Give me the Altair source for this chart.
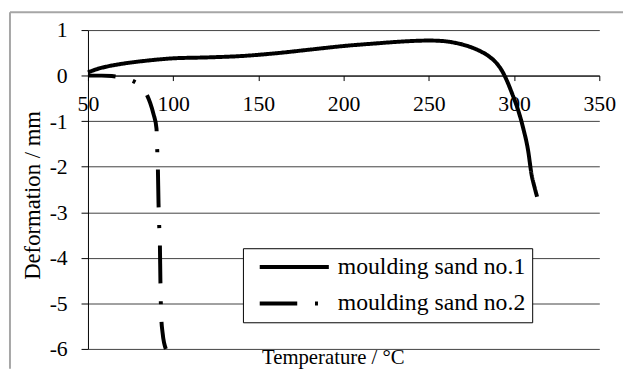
import altair as alt
import pandas as pd

series_names = ["moulding sand no.1", "moulding sand no.2"]

temp1 = [50, 55, 60, 70, 80, 90, 100, 120, 140, 160, 180, 200, 220, 235, 250,
         258, 264, 270, 275, 280, 285, 290, 293, 296, 299, 301.5, 305.4, 308.3, 310.2, 312, 313.5]
def1 = [0.07, 0.14, 0.19, 0.26, 0.31, 0.35, 0.38, 0.40, 0.43, 0.49, 0.57, 0.65, 0.71, 0.75, 0.77,
        0.76, 0.73, 0.68, 0.62, 0.54, 0.43, 0.26, 0.10, -0.13, -0.41, -0.66, -1.16, -1.66, -2.16, -2.45, -2.66]

temp2 = [50, 58, 64, 68, 72, 76, 80, 84, 86.5, 88.5, 90.2, 90.6, 91.0, 91.4, 91.8,
         92.2, 92.5, 92.7, 93.0, 93.8, 95.7]
def2 = [0, 0, -0.01, -0.03, -0.06, -0.11, -0.2, -0.38, -0.6, -0.85, -1.16, -1.6, -2.0, -2.8, -3.3,
        -3.7, -4.5, -4.9, -5.3, -5.65, -6.0]

x_ticks = [50, 100, 150, 200, 250, 300, 350]
y_ticks = [-6, -5, -4, -3, -2, -1, 0, 1]

df = pd.DataFrame({
    "T": temp1 + temp2,
    "D": def1 + def2,
    "series": [series_names[0]] * len(temp1) + [series_names[1]] * len(temp2),
    "idx": list(range(len(temp1))) + list(range(len(temp2))),
})

W, H = 518, 323
PAD_L, PAD_T, PAD_R, PAD_B = 81, 20, 24, 20
FONT = "Liberation Serif"

x_enc = alt.X(
    "T:Q",
    scale=alt.Scale(domain=[50, 350], nice=False, zero=False),
    axis=alt.Axis(
        values=x_ticks, offset=-H * 6 / 7, grid=False,
        domainColor="black", domainWidth=1, tickColor="black", tickSize=5, tickWidth=1,
        labelFont=FONT, labelFontSize=22, labelColor="black", labelPadding=13,
        labelFlush=False, labelOverlap=False,
        title="Temperature / °C", titleFont=FONT, titleFontSize=21, titleFontWeight="normal",
        titleColor="black", titleX=248, titleY=292, titleAlign="center", titleBaseline="alphabetic",
    ),
)
y_enc = alt.Y(
    "D:Q",
    scale=alt.Scale(domain=[-6, 1], nice=False, zero=False),
    axis=alt.Axis(
        values=y_ticks, grid=True, gridColor="#404040", gridWidth=1, gridOpacity=1,
        domainColor="black", domainWidth=1, tickColor="black", tickSize=7, tickWidth=1,
        labelFont=FONT, labelFontSize=22, labelColor="black", labelPadding=14,
        labelExpr="'' + datum.value",
        title="Deformation / mm", titleFont=FONT, titleFontSize=23, titleFontWeight="normal",
        titleColor="black", titleX=-49, titleY=167, titleAlign="center", titleBaseline="alphabetic",
    ),
)

lines = alt.Chart(df).mark_line(
    strokeWidth=4, color="black", interpolate="monotone", strokeDashOffset=10, strokeCap="butt"
).encode(
    x=x_enc,
    y=y_enc,
    order="idx:Q",
    strokeDash=alt.StrokeDash(
        "series:N",
        scale=alt.Scale(domain=series_names, range=[[1, 0], [38, 18, 3, 18]]),
        legend=alt.Legend(
            title=None, orient="none", legendX=157, legendY=221,
            fillColor="white", strokeColor="black", padding=7, symbolOffset=33,
            symbolType="M-5,0H5", symbolSize=196, symbolStrokeWidth=4,
            symbolStrokeColor="black", symbolDashOffset=0,
            labelFont=FONT, labelFontSize=24, labelColor="black", labelOffset=32,
            labelLimit=0, rowPadding=13,
        ),
    ),
)

frame_data = pd.DataFrame({"k": [0]})
frame_top = alt.Chart(frame_data).mark_rule(color="#a6a6a6", strokeWidth=2).encode(
    x=alt.value(-79), x2=alt.value(W + PAD_R), y=alt.value(-18)
)
frame_left = alt.Chart(frame_data).mark_rule(color="#a6a6a6", strokeWidth=2).encode(
    x=alt.value(-79), y=alt.value(-18), y2=alt.value(H + PAD_B)
)

chart = alt.layer(frame_top, frame_left, lines).properties(
    width=W, height=H,
    autosize=alt.AutoSizeParams(type="none"),
    padding={"left": PAD_L, "top": PAD_T, "right": PAD_R, "bottom": PAD_B},
    background="white",
).configure(font=FONT).configure_view(stroke=None).configure_axis(
    labelFont=FONT, titleFont=FONT
).configure_legend(labelFont=FONT)

chart.save("out.html", embed_options={"renderer": "svg", "actions": False})
